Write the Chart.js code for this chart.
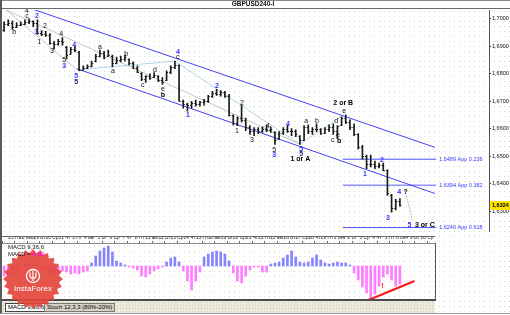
<!DOCTYPE html>
<html>
<head>
<meta charset="utf-8">
<script src="https://cdn.jsdelivr.net/npm/chart.js@4.4.1/dist/chart.umd.min.js"></script>
<style>
html,body{margin:0;padding:0;background:#fff}
#wrap{position:relative;width:510px;height:315px;overflow:hidden;background:#fff;font-family:"Liberation Sans",Arial,sans-serif}
.abs{position:absolute}
#dots{left:2px;top:9px;width:508px;height:304px;background-image:radial-gradient(#dcd8c6 0.8px,transparent 1px);background-size:5px 5px}
#tabs{left:2px;top:301px;width:433px;height:12px;background:#ece9dd;background-image:radial-gradient(#cfcab6 0.8px,transparent 1px);background-size:3px 3px}
.tab{position:absolute;top:2px;height:7px;font-size:6px;line-height:7px;padding:0 2px;border:1px solid #444;white-space:nowrap}
</style>
</head>
<body>
<div id="wrap">
  <div class="abs" id="dots"></div>
  <canvas id="main" class="abs" width="510" height="236" style="left:0;top:0"></canvas>
  <canvas id="macd" class="abs" width="437" height="64" style="left:0;top:236px"></canvas>

  <div class="abs" style="left:0;top:0;width:510px;height:1px;background:#8a8a8a"></div>
  <div class="abs" style="left:0;top:0;width:506px;text-align:center;font-size:6.5px;font-weight:bold;line-height:8px;color:#111">GBPUSD240-I</div>
  <div class="abs" style="left:2px;top:8px;width:508px;height:1px;background:#6a6a6a"></div>
  <div class="abs" style="left:0;top:0;width:2px;height:314px;background:#5a5a5a"></div>
  <div class="abs" style="left:2px;top:236px;width:433px;height:1px;background:#666"></div>
  <div class="abs" style="left:435px;top:243px;width:1px;height:58px;background:#555"></div>
  <div class="abs" style="left:2px;top:299px;width:434px;height:2px;background:#4a4a4a"></div>
  <div class="abs" id="tabs">
    <div class="tab" style="left:3px;background:#fff">MACD 9,36,6</div>
    <div class="tab" style="left:42px;background:#d6d2c4;border-color:#777">Stoch 12,3,3 (80%-20%)</div>
  </div>
  <div class="abs" style="left:0;top:313px;width:510px;height:1px;background:#9a9a9a"></div>

  <svg class="abs" style="left:1px;top:247px" width="66" height="66" viewBox="0 0 66 66">
    <polygon id="seal" fill="#e4463c" opacity="0.92"/>
    <circle cx="32" cy="29" r="6.5" fill="none" stroke="#fff" stroke-width="1.3"/>
    <path d="M29 25.5 v3 a3 3 0 0 0 6 0 v-3 M32 24 v10" stroke="#fff" stroke-width="1.2" fill="none"/>
    <text x="32" y="44" text-anchor="middle" font-size="8" fill="#fff" font-family="Liberation Sans, Arial">InstaForex</text>
  </svg>

  <div class="abs" style="left:8px;top:244px;font-size:6px;line-height:6.5px;color:#111">MACD 9,36,6<br>MACD =<span style="color:#ff00ff">-0.00</span></div>
</div>

<script>
// H4 bars, 3 slots per trading day (24 Jul .. 5 Sep)
const highs = [1.6989,1.6996,1.6993,1.6986,1.6989,1.6996,1.7000,1.6993,1.6996,1.6957,
1.6954,1.6946,1.6918,1.6925,1.6932,1.6900,1.6896,1.6900,1.6882,1.6829,
1.6832,1.6846,1.6871,1.6886,1.6882,1.6886,1.6868,1.6861,1.6864,1.6868,
1.6854,1.6843,1.6829,1.6804,1.6793,1.6800,1.6804,1.6793,1.6786,1.6811,
1.6829,1.6846,1.6832,1.6704,1.6693,1.6700,1.6704,1.6700,1.6707,1.6721,
1.6736,1.6743,1.6739,1.6736,1.6725,1.6650,1.6643,1.6686,1.6639,1.6611,
1.6604,1.6604,1.6607,1.6614,1.6607,1.6589,1.6589,1.6604,1.6611,1.6600,
1.6596,1.6575,1.6611,1.6614,1.6604,1.6618,1.6600,1.6604,1.6614,1.6618,
1.6611,1.6643,1.6650,1.6632,1.6618,1.6582,1.6539,1.6504,1.6504,1.6482,
1.6475,1.6475,1.6450,1.6361,1.6343,1.6346]
const lows = [1.6954,1.6975,1.6961,1.6968,1.6975,1.6979,1.6982,1.6971,1.6943,1.6939,
1.6936,1.6907,1.6889,1.6904,1.6904,1.6854,1.6871,1.6879,1.6811,1.6814,
1.6818,1.6825,1.6843,1.6861,1.6854,1.6864,1.6825,1.6836,1.6843,1.6846,
1.6832,1.6818,1.6804,1.6775,1.6768,1.6779,1.6786,1.6771,1.6761,1.6775,
1.6800,1.6818,1.6700,1.6675,1.6664,1.6675,1.6682,1.6682,1.6686,1.6696,
1.6714,1.6721,1.6718,1.6714,1.6646,1.6614,1.6611,1.6625,1.6593,1.6579,
1.6575,1.6582,1.6586,1.6589,1.6586,1.6543,1.6561,1.6579,1.6586,1.6575,
1.6571,1.6543,1.6557,1.6582,1.6579,1.6589,1.6579,1.6582,1.6589,1.6579,
1.6564,1.6611,1.6618,1.6596,1.6575,1.6525,1.6489,1.6454,1.6461,1.6454,
1.6457,1.6446,1.6357,1.6296,1.6304,1.6318]
const opens = [1.6960,1.6980,1.6985,1.6970,1.6978,1.6982,1.6990,1.6992,1.6985,1.6950,
1.6945,1.6940,1.6912,1.6910,1.6920,1.6898,1.6872,1.6890,1.6880,1.6815,
1.6822,1.6828,1.6845,1.6866,1.6875,1.6866,1.6866,1.6840,1.6850,1.6855,
1.6852,1.6840,1.6822,1.6802,1.6780,1.6790,1.6787,1.6790,1.6778,1.6776,
1.6805,1.6825,1.6830,1.6702,1.6690,1.6685,1.6695,1.6690,1.6698,1.6702,
1.6718,1.6730,1.6728,1.6735,1.6720,1.6650,1.6620,1.6640,1.6630,1.6605,
1.6590,1.6598,1.6590,1.6600,1.6595,1.6588,1.6562,1.6585,1.6598,1.6592,
1.6590,1.6573,1.6560,1.6605,1.6590,1.6598,1.6600,1.6585,1.6600,1.6605,
1.6590,1.6612,1.6640,1.6625,1.6605,1.6580,1.6535,1.6500,1.6470,1.6470,
1.6465,1.6468,1.6450,1.6360,1.6310,1.6335]
const closes = [1.6980,1.6985,1.6970,1.6978,1.6982,1.6990,1.6992,1.6985,1.6950,1.6945,
1.6940,1.6912,1.6910,1.6920,1.6915,1.6870,1.6890,1.6885,1.6815,1.6822,
1.6828,1.6840,1.6866,1.6875,1.6860,1.6870,1.6840,1.6850,1.6855,1.6860,
1.6840,1.6822,1.6808,1.6780,1.6790,1.6785,1.6795,1.6778,1.6770,1.6805,
1.6825,1.6830,1.6702,1.6690,1.6685,1.6695,1.6690,1.6698,1.6702,1.6718,
1.6730,1.6728,1.6735,1.6720,1.6650,1.6620,1.6640,1.6630,1.6605,1.6590,
1.6598,1.6590,1.6600,1.6595,1.6600,1.6560,1.6585,1.6598,1.6592,1.6590,
1.6580,1.6560,1.6605,1.6590,1.6598,1.6600,1.6585,1.6600,1.6605,1.6590,
1.6608,1.6640,1.6625,1.6605,1.6580,1.6535,1.6500,1.6470,1.6470,1.6465,
1.6468,1.6450,1.6365,1.6310,1.6335,1.6324]

const macd = [-0.0010,-0.0011,-0.0009,-0.0007,-0.0002,0.0002,0.0003,0.0003,0.0001,-0.0003,
-0.0005,-0.0007,-0.0008,-0.0007,-0.0005,-0.0006,-0.0008,-0.0007,-0.0008,-0.0006,
-0.0005,0.0003,0.0010,0.0015,0.0018,0.0020,0.0014,0.0005,0.0003,0.0001,
-0.0001,-0.0002,-0.0004,-0.0010,-0.0011,-0.0008,-0.0005,-0.0003,-0.0001,0.0004,
0.0008,0.0009,0.0004,-0.0005,-0.0015,-0.0024,-0.0015,-0.0006,0.0009,0.0012,
0.0014,0.0015,0.0014,0.0012,0.0005,-0.0007,-0.0015,-0.0017,-0.0010,-0.0004,
-0.0001,-0.0001,-0.0006,-0.0006,0.0002,0.0003,0.0004,0.0008,0.0011,0.0015,
0.0009,0.0004,0.0003,0.0004,0.0008,0.0011,0.0006,0.0003,0.0002,0.0003,
0.0004,0.0003,0.0003,0.0001,-0.0007,-0.0014,-0.0021,-0.0027,-0.0034,-0.0028,
-0.0020,-0.0011,-0.0008,-0.0014,-0.0020,-0.0018]

const dayLabels = ['','25 Пт','28 июл','29 Вт','30 Ср','31 Чт','1 Пт','4 авг','5 Вт','6 Ср','7 Чт','8 Пт',
'11 авг','12 Вт','13 Ср','14 Чт','15 Пт','18 авг','19 Вт','20 Ср','21 Чт','22 Пт','25 авг','26 Вт','27 Ср',
'28 Чт','29 Пт','1 сен','2 Вт','3 Ср','4 Чт','5 Пт','8 сен','9 Вт','10 Ср']
const priceTicks = [1.63,1.64,1.65,1.66,1.67,1.68,1.69,1.70]

// channel and wave lines: [slot, price]
const channelUpper = [[7.2,1.7036],[103.9,1.6532]]
const channelLower = [[18.0,1.6818],[103.9,1.6364]]
const grayLines = [[[0,1.7039],[71.5,1.6543]],[[0.7,1.7036],[18.0,1.6814]]]
const cyanLines = [[[18.0,1.6814],[41.5,1.6846]],[[41.5,1.6846],[71.5,1.6543]],[[71.5,1.6543],[82,1.6650]]]
const targetPath = [[97.0,1.6357],[98.6,1.6262]]
const fibLevels = [1.6489,1.6394,1.6240]
const fibNames = ['1.6489 App 0.236','1.6394 App 0.382','1.6240 App 0.618']
const fibSpan = [81.8,104.2]
const divergence = [[88,-0.0034],[99,-0.0015]]
const alertMark = [91.3,-0.0020]

// wave labels: [text, slot, price]
const blueWaves = [['2',8.4,1.7011],['1',8.2,1.6950],['3',14.9,1.6829],['4',17.3,1.6904],['5',17.8,1.6793],
['4',42.2,1.6879],['1',44.6,1.6650],['2',51.6,1.6754],['3',65.3,1.6504],['4',68.6,1.6618],['5',71.8,1.6525],
['1',87.1,1.6436],['2',91.2,1.6486],['3',92.6,1.6275],['4',95.3,1.6371],['5',97.8,1.6250]]
const navyWaves = [['5',17.8,1.6770],['5',71.8,1.6507]]
const blackWaves = [['b',2.9,1.6950],['c',6.0,1.7011],['4',6.0,1.7029],['1',8.9,1.6914],['2',10.3,1.6975],
['3',12.0,1.6882],['4',14.2,1.6943],['5',14.9,1.6850],['a',23.5,1.6896],['a',26.6,1.6811],['b',29.8,1.6871],
['c',33.8,1.6757],['d',36.7,1.6814],['e',38.6,1.6746],['c',42.2,1.6861],['1',56.4,1.6593],['2',57.6,1.6693],
['3',60.0,1.6557],['4',63.8,1.6611],['5',65.3,1.6521],['a',73.0,1.6629],['b',75.6,1.6629],['d',80.2,1.6629],
['c',79.4,1.6557],['e',80.6,1.6575],['e',82.1,1.6664]]
const boldWaves = [['b',38.6,1.6721],['1 or A',71.6,1.6489],['2 or B',81.9,1.6693],['b',80.9,1.6554],
['?',96.9,1.6371],['3 or C',101.5,1.6250]]

const SLOT_PX = 12.5 / 3
const FONT = '"Liberation Sans", Arial, sans-serif'

// seal outline of the logo
const pts = []
for (let i = 0; i < 48; i++) {
    const r = i % 2 ? 26 : 30
    const a = Math.PI * i / 24
    pts.push((32 + r * Math.cos(a)).toFixed(1) + ',' + (32 + r * Math.sin(a)).toFixed(1))
}
document.getElementById('seal').setAttribute('points', pts.join(' '))

const xy = arr => arr.map(p => ({x: p[0], y: p[1]}))
const line = (pts, color, width, dash) => ({
    type: 'line', data: xy(pts), borderColor: color, borderWidth: width,
    borderDash: dash || [], pointRadius: 0, order: 2
})

const ohlcTicks = {
    id: 'ohlcTicks',
    afterDatasetsDraw(chart) {
        const {ctx, scales: {x, y}} = chart
        ctx.save()
        ctx.strokeStyle = '#1a1a1a'
        ctx.lineWidth = 1
        ctx.beginPath()
        closes.forEach((c, i) => {
            const px = x.getPixelForValue(i + 0.5)
            const yo = Math.round(y.getPixelForValue(opens[i])) + 0.5
            const yc = Math.round(y.getPixelForValue(c)) + 0.5
            ctx.moveTo(px - 1.5, yo); ctx.lineTo(px, yo)
            ctx.moveTo(px, yc); ctx.lineTo(px + 1.5, yc)
        })
        ctx.stroke()
        ctx.restore()
    }
}

const waveText = {
    id: 'waveText',
    afterDatasetsDraw(chart) {
        const {ctx, scales: {x, y}} = chart
        ctx.save()
        ctx.textAlign = 'center'
        ctx.textBaseline = 'middle'
        const put = (list, font, color) => {
            ctx.font = font
            ctx.fillStyle = color
            list.forEach(([t, s, p]) => ctx.fillText(t, x.getPixelForValue(s), y.getPixelForValue(p)))
        }
        put(blueWaves, 'bold 7px ' + FONT, '#3838ff')
        put(navyWaves, 'bold 7px ' + FONT, '#22226e')
        put(blackWaves, '7px ' + FONT, '#111')
        put(boldWaves, 'bold 7px ' + FONT, '#000')

        ctx.textAlign = 'left'
        ctx.font = '5.5px ' + FONT
        ctx.fillStyle = '#3a3aff'
        fibLevels.forEach((p, i) => ctx.fillText(fibNames[i], x.getPixelForValue(fibSpan[1]) + 3, y.getPixelForValue(p)))

        // last price box on the axis
        const yl = y.getPixelForValue(closes[closes.length - 1])
        ctx.fillStyle = '#ffe300'
        ctx.fillRect(chart.chartArea.right + 1, Math.round(yl) - 4, 21, 9)
        ctx.fillStyle = '#000'
        ctx.font = 'bold 5.5px ' + FONT
        ctx.fillText(closes[closes.length - 1].toFixed(4).replace('.', ','), chart.chartArea.right + 3, yl + 0.5)
        ctx.restore()
    }
}

const fibSets = fibLevels.map((p, i) => line([[fibSpan[0], p], [fibSpan[1], p]],
    i === 1 ? '#9090ff' : '#4a4aff', i === 1 ? 1.6 : 1))

new Chart(document.getElementById('main'), {
    type: 'bar',
    data: {
        datasets: [
            {
                data: highs.map((h, i) => ({x: i + 0.5, y: [lows[i], h]})),
                backgroundColor: '#1a1a1a', barThickness: 1, order: 0
            },
            line(channelUpper, '#4343f5', 1),
            line(channelLower, '#4343f5', 1),
            ...grayLines.map(l => line(l, '#b8b8b8', 0.8)),
            ...cyanLines.map(l => line(l, '#9ccde4', 0.8)),
            line(targetPath, '#a8a8a8', 0.8, [2, 1]),
            ...fibSets
        ]
    },
    options: {
        responsive: false, animation: false, devicePixelRatio: 1, events: [],
        layout: {padding: {left: 2, top: 10, right: 0, bottom: 0}},
        plugins: {legend: {display: false}, tooltip: {enabled: false}},
        scales: {
            x: {type: 'linear', offset: false, min: 0, max: 487 / SLOT_PX, display: false},
            y: {
                position: 'right', min: 1.6225, max: 1.7032,
                afterFit(s) { s.width = 21 },
                afterBuildTicks(s) { s.ticks = priceTicks.map(v => ({value: v})) },
                grid: {drawOnChartArea: false, tickLength: 2, color: '#333'},
                border: {display: true, color: '#555'},
                ticks: {padding: 1, color: '#111', font: {size: 5.5, family: FONT},
                    callback: v => v.toFixed(4).replace('.', ',')}
            }
        }
    },
    plugins: [ohlcTicks, waveText]
})

const macdMarks = {
    id: 'macdMarks',
    afterDatasetsDraw(chart) {
        const {ctx, scales: {x, y}} = chart
        ctx.save()
        ctx.fillStyle = '#ff1010'
        ctx.font = 'bold 7px ' + FONT
        ctx.textAlign = 'center'
        ctx.textBaseline = 'middle'
        ctx.fillText('!', x.getPixelForValue(alertMark[0]), y.getPixelForValue(alertMark[1]))
        ctx.restore()
    }
}

new Chart(document.getElementById('macd'), {
    type: 'bar',
    data: {
        datasets: [
            {
                data: macd.map((v, i) => ({x: i + 0.5, y: v})),
                backgroundColor: macd.map(v => v >= 0 ? '#8585ff' : '#ff7dff'),
                barThickness: 2, order: 1
            },
            {
                type: 'line', data: xy(divergence), borderColor: '#ff1414', borderWidth: 2,
                pointRadius: 0, clip: false, order: 0
            }
        ]
    },
    options: {
        responsive: false, animation: false, devicePixelRatio: 1, events: [],
        layout: {padding: {left: 2, right: 2, top: 0, bottom: 0}},
        plugins: {legend: {display: false}, tooltip: {enabled: false}},
        scales: {
            x: {
                type: 'linear', position: 'top', offset: false, min: 0, max: 433 / SLOT_PX,
                afterFit(s) { s.height = 7 },
                afterBuildTicks(s) { s.ticks = dayLabels.map((_, k) => ({value: 3 * k})) },
                grid: {drawOnChartArea: false, offset: false, tickLength: 2, color: '#666'},
                border: {display: true, color: '#888'},
                ticks: {autoSkip: false, maxRotation: 0, minRotation: 0, padding: 0, color: '#222',
                    font: {size: 4.8, family: FONT}, callback: (v, i) => dayLabels[i]}
            },
            y: {display: false, min: -0.0034, max: 0.0023}
        }
    },
    plugins: [macdMarks]
})
</script>
</body>
</html>
